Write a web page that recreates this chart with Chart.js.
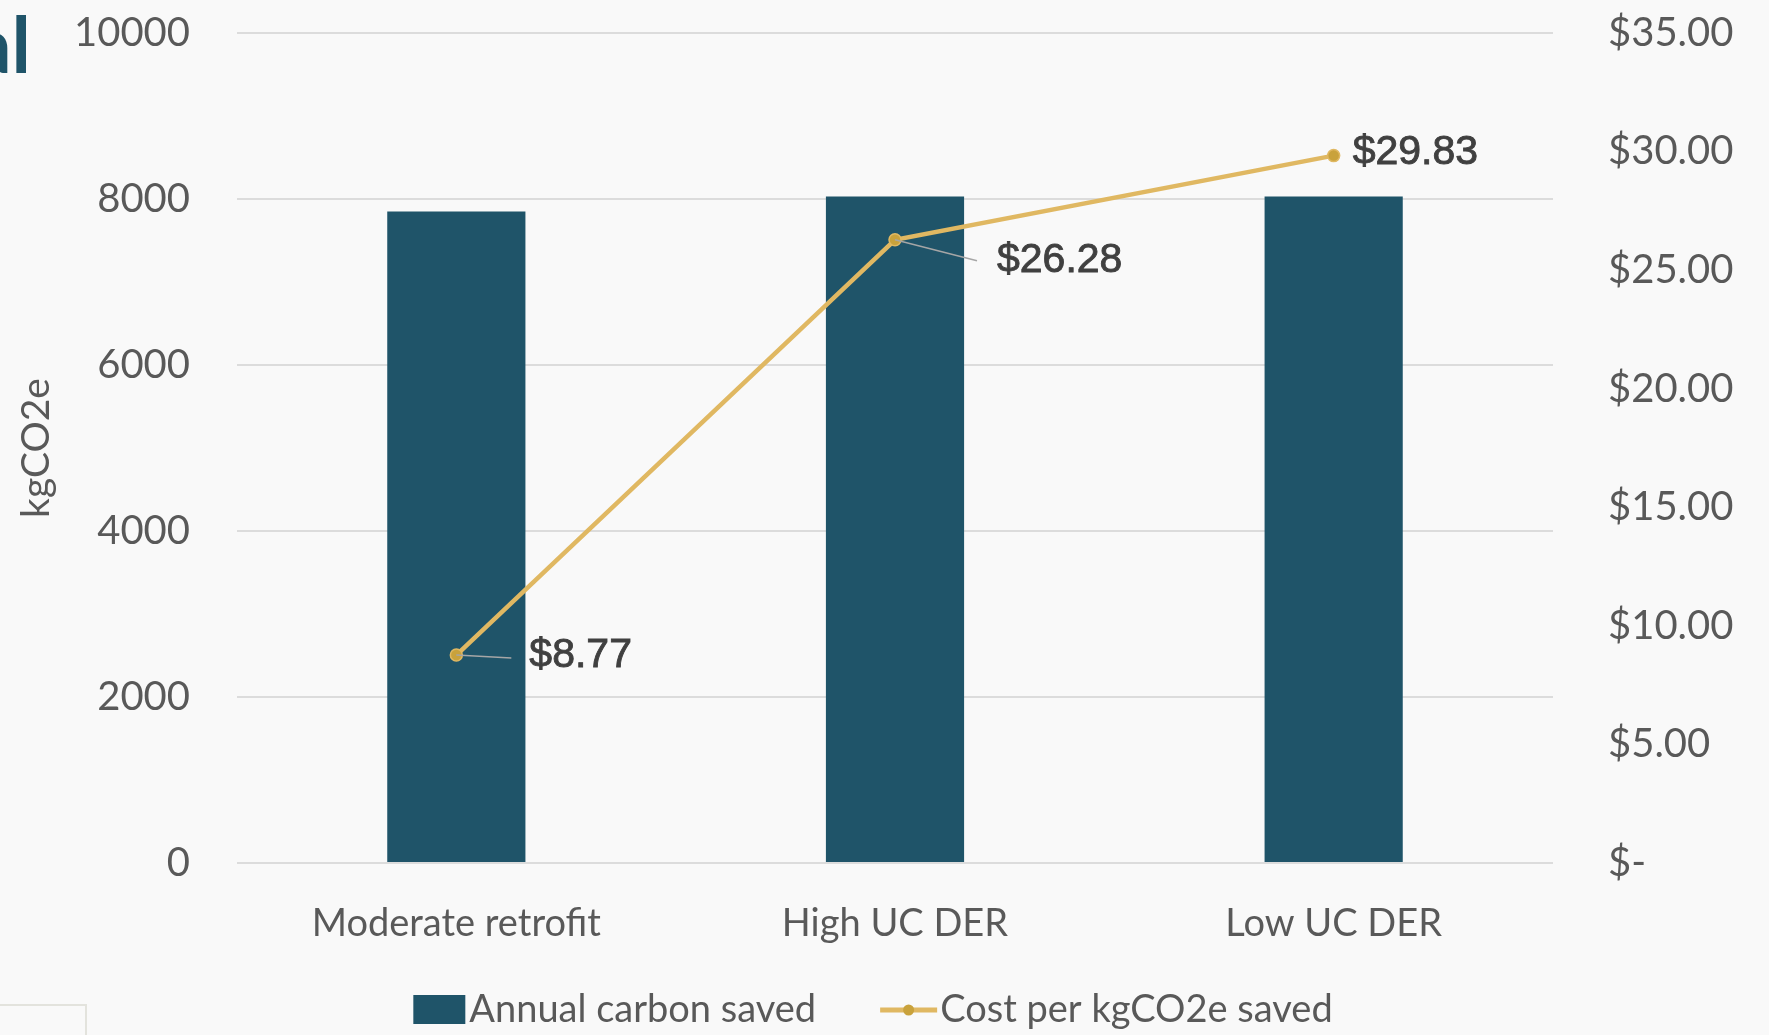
<!DOCTYPE html>
<html>
<head>
<meta charset="utf-8">
<script src="https://cdn.jsdelivr.net/npm/chart.js@4.4.1/dist/chart.umd.min.js"></script>
<style>
  html, body { margin: 0; padding: 0; background: #f9f9f9; }
  #wrap { position: relative; width: 1769px; height: 1035px; }
</style>
</head>
<body>
<div id="wrap"><canvas id="chart" width="1769" height="1035"></canvas></div>
<script>
// chart data
var Categories = ['Moderate retrofit', 'High UC DER', 'Low UC DER'];
var CarbonSaved = [7850, 8030, 8030];
var CostPerKg = [8.77, 26.28, 29.83];
var SeriesNames = ['Annual carbon saved', 'Cost per kgCO2e saved'];
var LeftTicks = [0, 2000, 4000, 6000, 8000, 10000];
var RightTicks = [0, 5, 10, 15, 20, 25, 30, 35];

// label placement (offset of label left edge / leader end from the point)
var _LabelOffset = [[73, 1], [102, 21], [19, -3]];
var _LeaderEnd = [[55, 3], [82, 21], null];

var _BarColor = '#1f5469';
var _LineColor = '#e0b862';
var _PointColor = '#c9a23c';
var _TextColor = '#595959';
var _GridColor = '#dcdcdc';
var _Font = 'Lato, "Open Sans", sans-serif';

function formatDollar(v) {
    if (v === 0) return '$-';
    return '$' + v.toFixed(2);
}

var decorPlugin = {
    id: 'decor',
    beforeDraw: function (chart) {
        var ctx = chart.ctx;
        ctx.save();
        ctx.fillStyle = '#f9f9f9';
        ctx.fillRect(0, 0, chart.width, chart.height);
        ctx.restore();
    },
    afterDraw: function (chart) {
        var ctx = chart.ctx;
        ctx.save();

        // cut-off title fragment in the corner
        ctx.fillStyle = _BarColor;
        ctx.font = 'bold 78px Lato, sans-serif';
        ctx.textAlign = 'right';
        ctx.textBaseline = 'alphabetic';
        ctx.fillText('al', 31, 73);

        // small frame bottom left
        ctx.strokeStyle = '#e3e3dd';
        ctx.lineWidth = 2;
        ctx.beginPath();
        ctx.moveTo(0, 1005);
        ctx.lineTo(86, 1005);
        ctx.lineTo(86, 1035);
        ctx.stroke();

        // legend
        ctx.font = '38px ' + _Font;
        ctx.textBaseline = 'alphabetic';
        ctx.textAlign = 'left';
        var w1 = ctx.measureText(SeriesNames[0]).width;
        var w2 = ctx.measureText(SeriesNames[1]).width;
        var total = 52 + 4 + w1 + 64 + 57 + 3 + w2;
        var x = 873 - total / 2;
        var base = 1022;

        ctx.fillStyle = _BarColor;
        ctx.fillRect(x, 995, 52, 29);
        x += 56;
        ctx.fillStyle = _TextColor;
        ctx.fillText(SeriesNames[0], x, base);
        x += w1 + 64;

        ctx.strokeStyle = _LineColor;
        ctx.lineWidth = 5;
        ctx.beginPath();
        ctx.moveTo(x, 1010);
        ctx.lineTo(x + 57, 1010);
        ctx.stroke();
        ctx.fillStyle = _PointColor;
        ctx.beginPath();
        ctx.arc(x + 28.5, 1010, 5.5, 0, Math.PI * 2);
        ctx.fill();
        x += 60;
        ctx.fillStyle = _TextColor;
        ctx.fillText(SeriesNames[1], x, base);

        ctx.restore();
    }
};

var labelPlugin = {
    id: 'costLabels',
    afterDatasetsDraw: function (chart) {
        var ctx = chart.ctx;
        var meta = chart.getDatasetMeta(0);
        ctx.save();
        for (var i = 0; i < meta.data.length; i++) {
            var pt = meta.data[i];
            var lead = _LeaderEnd[i];
            if (lead) {
                ctx.strokeStyle = '#a6a6a6';
                ctx.lineWidth = 1.5;
                ctx.beginPath();
                ctx.moveTo(pt.x, pt.y);
                ctx.lineTo(pt.x + lead[0], pt.y + lead[1]);
                ctx.stroke();
            }
            var txt = formatDollar(CostPerKg[i]);
            var tx = pt.x + _LabelOffset[i][0];
            var ty = pt.y + _LabelOffset[i][1];
            ctx.fillStyle = '#404040';
            ctx.strokeStyle = '#404040';
            ctx.lineWidth = 0.9;
            ctx.font = '41px "Liberation Sans", Arial, sans-serif';
            ctx.textAlign = 'left';
            ctx.textBaseline = 'middle';
            ctx.fillText(txt, tx, ty);
            ctx.strokeText(txt, tx, ty);   // a bit heavier, like the original
        }
        ctx.restore();
    }
};

// invisible tick marks are used as spacing, so the label gap does not grow the chart padding
var _NoTick = 'rgba(0,0,0,0)';

var ctx = document.getElementById('chart');
var ComboChart = new Chart(ctx, {
    data: {
        labels: Categories,
        datasets: [
            {
                type: 'line',
                label: SeriesNames[1],
                data: CostPerKg,
                yAxisID: 'y2',
                borderColor: _LineColor,
                borderWidth: 4.5,
                pointRadius: 6,
                pointBorderWidth: 1.5,
                pointBackgroundColor: _PointColor,
                pointBorderColor: _LineColor,
                tension: 0,
                order: 0
            },
            {
                type: 'bar',
                label: SeriesNames[0],
                data: CarbonSaved,
                yAxisID: 'y',
                backgroundColor: _BarColor,
                categoryPercentage: 1,
                barPercentage: 0.315,
                order: 1
            }
        ]
    },
    options: {
        responsive: false,
        animation: false,
        layout: { padding: { top: 33, left: 0, right: 0, bottom: 72 } },
        plugins: {
            legend: { display: false },
            tooltip: { enabled: false }
        },
        scales: {
            x: {
                grid: { display: false, drawTicks: true, tickLength: 38, tickColor: _NoTick },
                border: { display: false },
                ticks: { color: _TextColor, font: { family: _Font, size: 38 }, padding: 0 },
                afterFit: function (scale) { scale.height = 100; }
            },
            y: {
                position: 'left',
                min: 0,
                max: 10000,
                afterBuildTicks: function (scale) {
                    scale.ticks = LeftTicks.map(function (v) { return { value: v }; });
                },
                grid: { color: _GridColor, lineWidth: 2, drawTicks: true, tickLength: 47, tickColor: _NoTick },
                border: { display: false },
                ticks: {
                    color: _TextColor,
                    font: { family: _Font, size: 40 },
                    padding: 0,
                    callback: function (v) { return String(v); }
                },
                title: {
                    display: true,
                    text: 'kgCO2e',
                    color: _TextColor,
                    font: { family: _Font, size: 39 },
                    padding: { top: 13, bottom: 0 }
                },
                afterFit: function (scale) { scale.width = 237; }
            },
            y2: {
                position: 'right',
                min: 0,
                max: 35,
                afterBuildTicks: function (scale) {
                    scale.ticks = RightTicks.map(function (v) { return { value: v }; });
                },
                grid: { drawOnChartArea: false, drawTicks: true, tickLength: 55, tickColor: _NoTick },
                border: { display: false },
                ticks: {
                    color: _TextColor,
                    font: { family: _Font, size: 40 },
                    padding: 0,
                    callback: function (v) { return formatDollar(v); }
                },
                afterFit: function (scale) { scale.width = 216; }
            }
        }
    },
    plugins: [decorPlugin, labelPlugin]
});
</script>
</body>
</html>
